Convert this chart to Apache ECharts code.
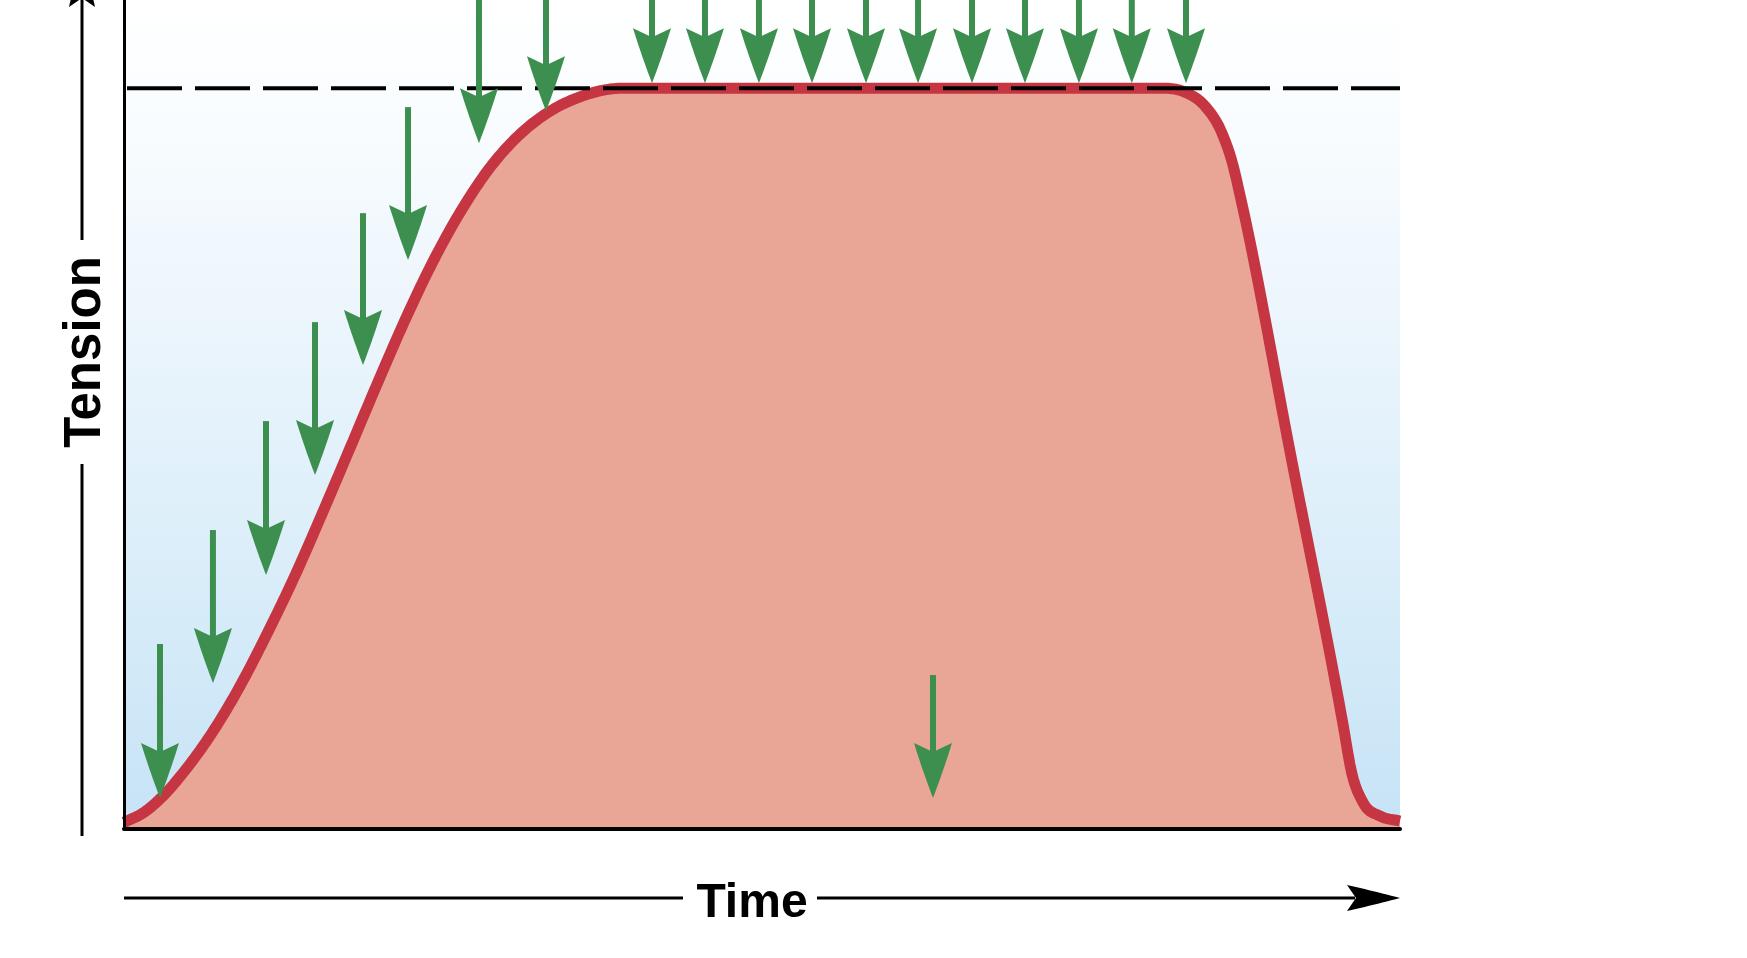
<!DOCTYPE html>
<html>
<head>
<meta charset="utf-8">
<script src="https://cdn.jsdelivr.net/npm/echarts@6/dist/echarts.min.js"></script>
<style>
  html, body { margin: 0; padding: 0; background: #ffffff; }
  #chart { width: 1747px; height: 958px; }
</style>
</head>
<body>
<div id="chart"></div>
<script>
// ---- Data (time in arbitrary units 0..100, tension in % of maximum) ----
const curveTime    = [0, 1.49, 2.98, 4.69, 6.87, 9.06, 11.24, 13.42, 15.60, 17.79, 19.97, 22.15, 24.33, 26.52, 28.70, 30.88, 33.07, 35.69, 39.18, 60.8, 81.1, 83.15, 84.72, 86.05, 86.91, 87.46, 91.51, 95.53, 96.20, 97.08, 98.43, 100];
const curveTension = [0.9, 2.16, 4.32, 7.71, 12.9, 19.2, 26.46, 34.29, 42.86, 51.73, 60.61, 69.18, 76.99, 83.75, 89.32, 93.53, 96.54, 98.8, 100, 100, 100, 99.46, 97.57, 93.93, 89.61, 85.56, 49.8, 14.17, 7.69, 3.64, 1.75, 1.08];

const maxTension = 100;          // dashed line level
const timeRange = [0, 100];
const tensionRange = [0, 111.9];

// Stimuli (green arrows): time, arrow start (tension), arrow tip (tension)
const stimTime = [2.82, 6.97, 11.13, 14.97, 18.73, 22.26, 27.82, 33.07, 41.38, 45.53, 49.76, 53.92, 58.15, 62.23, 66.46, 70.61, 74.84, 78.98, 83.23, 63.40];
const stimFrom = [24.97, 40.35, 55.06, 68.42, 83.13, 97.44, 118, 118, 118, 118, 118, 118, 118, 118, 118, 118, 118, 118, 118, 20.78];
const stimTo   = [4.18, 19.70, 34.28, 47.77, 62.62, 76.79, 92.58, 96.90, 100.67, 100.67, 100.67, 100.67, 100.67, 100.67, 100.67, 100.67, 100.67, 100.67, 100.67, 4.18];

const xTitle = 'Time';
const yTitle = 'Tension';

// ---- Styles ----
const GREEN = '#3d8f50';
const RED = '#c53642';
const SALMON = '#e9a596';
const FONT = '"Liberation Sans", Arial, sans-serif';

const curveData = curveTime.map((t, i) => [t, curveTension[i]]);
const maxLine = [[timeRange[0], maxTension], [timeRange[1], maxTension]];
const stimData = stimTime.map((t, i) => [t, stimFrom[i], stimTo[i]]);

function quadPts(p0, c, p1, n) {
  const pts = [];
  for (let i = 0; i <= n; i++) {
    const s = i / n, a = (1 - s) * (1 - s), b = 2 * (1 - s) * s, d = s * s;
    pts.push([a * p0[0] + b * c[0] + d * p1[0], a * p0[1] + b * c[1] + d * p1[1]]);
  }
  return pts;
}
// barbed arrowhead, tip at (tx,ty), pointing in direction (dx,dy) unit
function headPolygon(tx, ty, dx, dy, len, hw, notch, bow) {
  const px = -dy, py = dx;
  const P = (u, v) => [tx + dx * u + px * v, ty + dy * u + py * v];
  const tip = P(0, 0);
  const right = P(-len, hw), left = P(-len, -hw);
  const cR = P(-len / 2, bow), cL = P(-len / 2, -bow);
  const pts = [];
  quadPts(tip, cR, right, 12).forEach(p => pts.push(p));
  pts.push(P(-notch, 0));
  quadPts(left, cL, tip, 12).forEach(p => pts.push(p));
  return pts;
}

// Cubic Hermite through pixel points with weighted 3-point slopes (clamped, no overshoot)
function smoothSample(pts, step) {
  const n = pts.length;
  const xs = pts.map(p => p[0]), ys = pts.map(p => p[1]);
  const d = [], m = new Array(n);
  for (let i = 0; i < n - 1; i++) d.push((ys[i + 1] - ys[i]) / (xs[i + 1] - xs[i]));
  m[0] = d[0]; m[n - 1] = d[n - 2];
  for (let i = 1; i < n - 1; i++) {
    const d0 = d[i - 1], d1 = d[i];
    if (d0 * d1 <= 0) { m[i] = 0; continue; }
    const h0 = xs[i] - xs[i - 1], h1 = xs[i + 1] - xs[i];
    let s = (d0 * h1 + d1 * h0) / (h0 + h1);
    const lim = 3 * Math.min(Math.abs(d0), Math.abs(d1));
    if (Math.abs(s) > lim) s = Math.sign(s) * lim;
    m[i] = s;
  }
  const out = [];
  for (let i = 0; i < n - 1; i++) {
    const x0 = xs[i], x1 = xs[i + 1], h = x1 - x0;
    const k = Math.max(2, Math.ceil(h / step));
    for (let j = 0; j < k; j++) {
      const t = j / k, t2 = t * t, t3 = t2 * t;
      const y = (2 * t3 - 3 * t2 + 1) * ys[i] + (t3 - 2 * t2 + t) * h * m[i] + (-2 * t3 + 3 * t2) * ys[i + 1] + (t3 - t2) * h * m[i + 1];
      out.push([x0 + t * h, y]);
    }
  }
  out.push([xs[n - 1], ys[n - 1]]);
  return out;
}

const chart = echarts.init(document.getElementById('chart'), null, { renderer: 'canvas' });

const option = {
  animation: false,
  backgroundColor: '#ffffff',
  grid: {
    left: 124, right: 347, top: 0, bottom: 129,
    show: true,
    borderWidth: 0,
    backgroundColor: new echarts.graphic.LinearGradient(0, 0, 0, 1, [
      { offset: 0, color: '#ffffff' },
      { offset: 0.12, color: '#fafdff' },
      { offset: 0.4, color: '#ebf5fc' },
      { offset: 0.7, color: '#d9edf9' },
      { offset: 1, color: '#c6e3f6' }
    ])
  },
  xAxis: {
    type: 'value', min: timeRange[0], max: timeRange[1], z: 6,
    axisLine: { show: true, onZero: false, lineStyle: { color: '#000', width: 4 } },
    axisTick: { show: false }, axisLabel: { show: false }, splitLine: { show: false }
  },
  yAxis: {
    type: 'value', min: tensionRange[0], max: tensionRange[1], z: 6,
    axisLine: { show: true, onZero: false, lineStyle: { color: '#000', width: 3 } },
    axisTick: { show: false }, axisLabel: { show: false }, splitLine: { show: false }
  },
  series: [
    {
      // tension curve: area + thick outline, smooth interpolation through the data points
      type: 'custom', z: 2, data: curveData, clip: false,
      renderItem: function (params, api) {
        if (params.dataIndex !== 0) return null;
        const px = curveData.map(p => api.coord(p));
        const smooth = smoothSample(px, 2);
        const base = api.coord([timeRange[0], tensionRange[0]])[1];
        const area = smooth.concat([[smooth[smooth.length - 1][0], base], [smooth[0][0], base]]);
        return {
          type: 'group',
          children: [
            { type: 'polygon', shape: { points: area }, style: { fill: SALMON } },
            { type: 'polyline', shape: { points: smooth }, style: { stroke: RED, lineWidth: 11, fill: null, lineJoin: 'round', lineCap: 'butt' } }
          ]
        };
      }
    },
    {
      type: 'line', z: 3, data: maxLine, symbol: 'none', showSymbol: false,
      lineStyle: { color: '#000', width: 4, type: [55, 13], dashOffset: 65 }
    },
    {
      type: 'custom', z: 4, data: stimData, clip: false,
      renderItem: function (params, api) {
        const x = api.value(0);
        const p0 = api.coord([x, api.value(1)]);
        const p1 = api.coord([x, api.value(2)]);
        const len = 55, hw = 19, notch = 46;
        const shaftEnd = p1[1] - notch + 3;
        return {
          type: 'group',
          children: [
            { type: 'rect', shape: { x: p1[0] - 3, y: p0[1], width: 6, height: Math.max(0, shaftEnd - p0[1]) }, style: { fill: GREEN } },
            { type: 'polygon', shape: { points: headPolygon(p1[0], p1[1], 0, 1, len, hw, notch, 10.5) }, style: { fill: GREEN } }
          ]
        };
      }
    }
  ]
};
chart.setOption(option);

// ---- Axis titles with arrows, positioned from the axes ----
const origin = chart.convertToPixel({ gridIndex: 0 }, [timeRange[0], tensionRange[0]]);
const xEnd = chart.convertToPixel({ gridIndex: 0 }, [timeRange[1], tensionRange[0]]);
const yEnd = chart.convertToPixel({ gridIndex: 0 }, [timeRange[0], tensionRange[1]]);

const arrowY = origin[1] + 69;      // Time arrow row
const arrowX = origin[0] - 42;      // Tension arrow column
const timeCx = 752;
const tenCy = 352, tenHalf = 98 + 14;
const lw = 3;

chart.setOption({
  graphic: [
    // Time arrow
    { type: 'line', shape: { x1: origin[0], y1: arrowY, x2: timeCx - 69, y2: arrowY }, style: { stroke: '#000', lineWidth: lw } },
    { type: 'line', shape: { x1: timeCx + 65, y1: arrowY, x2: xEnd[0] - 45, y2: arrowY }, style: { stroke: '#000', lineWidth: lw } },
    { type: 'polygon', shape: { points: headPolygon(xEnd[0], arrowY, 1, 0, 53, 13, 44, 7) }, style: { fill: '#000' } },
    { type: 'text', x: timeCx, y: arrowY + 6,
      style: { text: xTitle, font: 'bold 48px ' + FONT, fill: '#000', align: 'center', verticalAlign: 'middle', textAlign: 'center', textVerticalAlign: 'middle' } },
    // Tension arrow
    { type: 'line', shape: { x1: arrowX, y1: origin[1] + 7, x2: arrowX, y2: tenCy + tenHalf }, style: { stroke: '#000', lineWidth: lw } },
    { type: 'line', shape: { x1: arrowX, y1: tenCy - tenHalf, x2: arrowX, y2: yEnd[1] - 5 }, style: { stroke: '#000', lineWidth: lw } },
    { type: 'polygon', shape: { points: headPolygon(arrowX, yEnd[1] - 46, 0, -1, 53, 13, 44, 7) }, style: { fill: '#000' } },
    { type: 'text', x: arrowX + 4, y: tenCy, rotation: Math.PI / 2,
      style: { text: yTitle, font: 'bold 51px ' + FONT, fill: '#000', align: 'center', verticalAlign: 'middle', textAlign: 'center', textVerticalAlign: 'middle' } }
  ]
});
</script>
</body>
</html>
